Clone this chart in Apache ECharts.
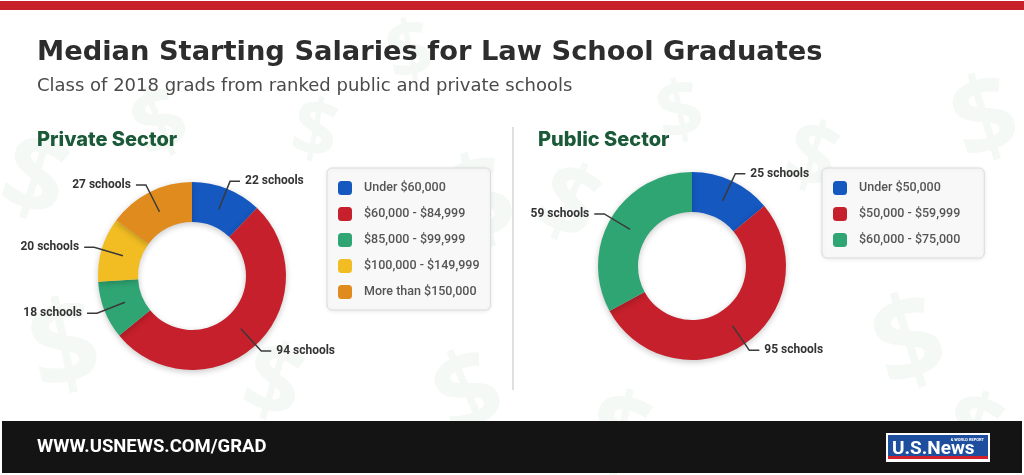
<!DOCTYPE html>
<html>
<head>
<meta charset="utf-8">
<script src="https://cdn.jsdelivr.net/npm/echarts@6/dist/echarts.min.js"></script>
<style>
html,body{margin:0;padding:0;background:#fff;}
#chart{width:1024px;height:475px;}
</style>
</head>
<body>
<div id="chart"></div>
<script>
// ---- data ----
const privateCategories = ['Under $60,000', '$60,000 - $84,999', '$85,000 - $99,999', '$100,000 - $149,999', 'More than $150,000'];
const privateValues = [22, 94, 18, 20, 27];
const publicCategories = ['Under $50,000', '$50,000 - $59,999', '$60,000 - $75,000'];
const publicValues = [25, 95, 59];
const privateColors = ['#1558c0', '#c5202b', '#2fa573', '#f1bd23', '#e08b1e'];
const publicColors = ['#1558c0', '#c5202b', '#2fa573'];
const titleText = 'Median Starting Salaries for Law School Graduates';
const subtitleText = 'Class of 2018 grads from ranked public and private schools';
const privateTitle = 'Private Sector';
const publicTitle = 'Public Sector';
const footerText = 'WWW.USNEWS.COM/GRAD';

const chart = echarts.init(document.getElementById('chart'), null, {renderer: 'canvas'});

function ringSeries(name, cats, vals, colors, center) {
  return {
    type: 'pie', name: name, center: center, radius: [54, 94],
    startAngle: 90, clockwise: true, silent: true, z: 2,
    label: {show: false}, labelLine: {show: false},
    itemStyle: {shadowBlur: 6, shadowOffsetY: 2, shadowColor: 'rgba(0,0,0,0.22)'},
    emphasis: {disabled: true},
    data: cats.map((c, i) => ({name: c, value: vals[i], itemStyle: {color: colors[i]}}))
  };
}
function labelSeries(name, cats, vals, center) {
  return {
    type: 'pie', name: name + ' labels', center: center, radius: [0, 72],
    startAngle: 90, clockwise: true, silent: true, z: 3,
    avoidLabelOverlap: false,
    itemStyle: {color: 'rgba(0,0,0,0)'},
    emphasis: {disabled: true},
    label: {show: true, position: 'outside', formatter: '{c} schools', color: '#333',
      fontFamily: 'Roboto', fontWeight: 'bold', fontSize: 12, distanceToLabelLine: 5},
    labelLine: {show: true, length: 30, length2: 10, lineStyle: {color: '#3a3a3a', width: 1.5}},
    data: cats.map((c, i) => ({name: c, value: vals[i]}))
  };
}

const legendCommon = {
  orient: 'vertical', itemWidth: 14, itemHeight: 14, itemGap: 12, icon: 'roundRect',
  backgroundColor: '#f8f8f8', borderColor: '#dcdcdc', borderWidth: 1, borderRadius: 5,
  shadowBlur: 4, shadowColor: 'rgba(0,0,0,0.08)', shadowOffsetY: 1,
  selectedMode: false,
  textStyle: {fontFamily: 'Roboto', fontWeight: 500, fontSize: 12.5, color: '#555', padding: [0, 0, 0, 7], lineHeight: 14}
};

// faint dollar-sign backdrop
const dollars = [
  [20, 120, 110, -0.3], [120, 95, 90, 0.4], [300, 90, 80, -0.2], [430, 160, 120, 0.3],
  [560, 150, 100, -0.4], [650, 80, 80, 0.2], [800, 110, 90, -0.3], [940, 80, 110, 0.3],
  [20, 300, 120, 0.2], [260, 330, 100, -0.3], [420, 360, 110, 0.4], [600, 380, 110, -0.2],
  [860, 300, 120, 0.3], [960, 380, 100, -0.3], [380, 20, 80, 0.2]
];
const bgGraphics = dollars.map(d => ({
  type: 'text', x: d[0], y: d[1], rotation: d[3], silent: true, z: -10,
  style: {text: '$', font: 'bold ' + d[2] + 'px "Open Sans"', fill: '#f4f9f6'}
}));

const option = {
  backgroundColor: '#ffffff',
  animation: false,
  legend: [
    Object.assign({}, legendCommon, {data: privateCategories, left: 327, top: 168, padding: [13, 11, 11, 11]}),
    Object.assign({}, legendCommon, {data: publicCategories, left: 822, top: 168, padding: [13, 24, 11, 11]})
  ],
  graphic: bgGraphics.concat([
    {type: 'rect', shape: {x: 0, y: 1, width: 1024, height: 9}, style: {fill: '#c8202b'}, silent: true},
    {type: 'text', x: 37, y: 53, style: {text: titleText, font: 'bold 27.3px "DejaVu Sans"', fill: '#2d2d2d', verticalAlign: 'middle'}},
    {type: 'text', x: 37, y: 86, style: {text: subtitleText, font: 'normal 18px "DejaVu Sans"', fill: '#4a4a4a', verticalAlign: 'middle'}},
    {type: 'text', x: 37, y: 140, style: {text: privateTitle, font: '800 20px Inter', fill: '#1b5a38', verticalAlign: 'middle'}},
    {type: 'text', x: 538, y: 140, style: {text: publicTitle, font: '800 20px Inter', fill: '#1b5a38', verticalAlign: 'middle'}},
    {type: 'line', shape: {x1: 513, y1: 127, x2: 513, y2: 390}, style: {stroke: '#d6d6d6', lineWidth: 1.5}, silent: true},
    {type: 'rect', shape: {x: 2, y: 421, width: 1020, height: 52}, style: {fill: '#141414'}, silent: true},
    {type: 'text', x: 37, y: 447, style: {text: footerText, font: 'bold 18.5px Roboto', fill: '#ffffff', verticalAlign: 'middle'}},
    {type: 'rect', shape: {x: 886, y: 433, width: 104, height: 29}, style: {fill: '#ffffff'}, silent: true},
    {type: 'rect', shape: {x: 888, y: 435, width: 100, height: 21}, style: {fill: '#1d4f9e'}, silent: true},
    {type: 'rect', shape: {x: 888, y: 456, width: 100, height: 3}, style: {fill: '#d0202c'}, silent: true},
    {type: 'text', x: 892, y: 449, style: {text: 'U.S.News', font: 'bold 19px "Liberation Sans Narrow", Roboto', fill: '#ffffff', verticalAlign: 'middle'}},
    {type: 'text', x: 984, y: 440, style: {text: '& WORLD REPORT', font: 'bold 4px Roboto', fill: '#ffffff', align: 'right', verticalAlign: 'middle'}}
  ]),
  series: [
    ringSeries('Private Sector', privateCategories, privateValues, privateColors, [192, 276]),
    ringSeries('Public Sector', publicCategories, publicValues, publicColors, [692, 266]),
    labelSeries('Private Sector', privateCategories, privateValues, [192, 276]),
    labelSeries('Public Sector', publicCategories, publicValues, [692, 266])
  ]
};
chart.setOption(option);
</script>
</body>
</html>
